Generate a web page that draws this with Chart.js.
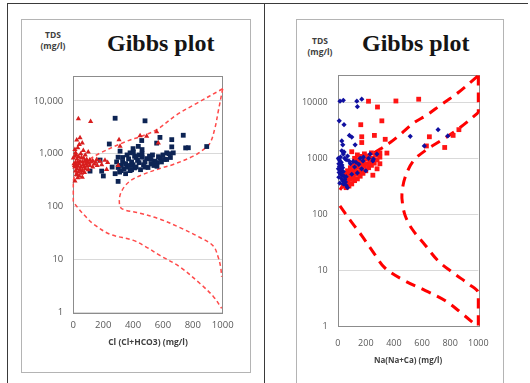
<!DOCTYPE html>
<html>
<head>
<meta charset="utf-8">
<script src="https://cdn.jsdelivr.net/npm/chart.js@4.4.0/dist/chart.umd.min.js"></script>
<style>
body { margin:0; background:#fff; width:530px; height:383px; position:relative; overflow:hidden; }
.line { position:absolute; background:#3a3a3a; }
.box { position:absolute; border:1px solid #b4b4b4; box-sizing:border-box; }
.tds { position:absolute; font:bold 8.5px "Open Sans", sans-serif; color:#404040; text-align:center; line-height:11px; width:44px; }
.title { position:absolute; font:bold 24px "Liberation Serif", serif; color:#151515; white-space:nowrap; line-height:24px; }
canvas { position:absolute; }
</style>
</head>
<body>
<div class="line" style="left:7px;top:3px;width:521px;height:1px"></div>
<div class="line" style="left:7px;top:3px;width:1px;height:380px"></div>
<div class="line" style="left:264px;top:3px;width:1px;height:380px"></div>
<div class="box" style="left:21px;top:19px;width:230px;height:354px"></div>
<div class="box" style="left:296px;top:19px;width:208px;height:380px"></div>

<div class="tds" style="left:31px;top:29px">TDS<br>(mg/l)</div>
<div class="title" style="left:107px;top:31px">Gibbs plot</div>
<div class="tds" style="left:298px;top:35px">TDS<br>(mg/l)</div>
<div class="title" style="left:362px;top:31px">Gibbs plot</div>

<canvas id="leftChart" width="228" height="312" style="left:22px;top:60px"></canvas>
<canvas id="rightChart" width="206" height="323" style="left:297px;top:60px"></canvas>

<script>
// ---- left plot: Cl/(Cl+HCO3) ----
const clTriangles = [
  [34,4600],[116,4100],[45,2000],[23,1820],[40,1500],[60,1600],[11,1200],[67,1150],[100,1080],[30,1300],
  [15,1050],[50,1000],[20,950],[80,950],[10,900],[35,880],[55,850],[0,830],[25,800],[70,820],
  [90,780],[110,760],[130,740],[157,780],[180,720],[212,750],[230,680],[150,690],[120,700],[95,700],
  [75,720],[60,700],[45,720],[30,700],[15,680],[5,650],[20,620],[40,640],[65,620],[85,640],
  [105,660],[140,640],[190,620],[30,580],[50,560],[70,560],[90,580],[10,560],[25,520],[45,500],
  [60,480],[80,520],[100,500],[15,470],[35,450],[55,430],[75,440],[20,400],[27,400],[40,380],
  [11,305],[30,350],[60,360],[8,600],[110,600],[130,560],[160,600],
  [306,1850],[313,1380],[447,2200],[558,2600],[491,2140],[569,1590],[223,505],[300,600]
];
const clSquares = [
  [280,4700],[480,4200],[241,1530],[736,2240],[580,2040],[659,1850],[458,1780],[893,1370],[752,1290],[558,1590],
  [659,1350],[435,1380],[313,1120],[669,1040],[625,1040],[380,1040],[402,1080],[580,830],[547,725],[625,780],
  [491,810],[179,760],[112,470],[190,470],[201,380],[300,300],[310,450],[320,600],[330,700],[340,520],
  [350,650],[360,560],[370,800],[380,480],[390,700],[400,620],[410,900],[420,560],[430,750],[440,680],
  [450,500],[460,860],[470,620],[480,700],[500,550],[510,900],[520,640],[530,950],[540,600],[560,680],
  [570,880],[590,700],[600,950],[610,780],[640,1000],[650,850],[300,860],[320,480],[350,420],[380,600],
  [410,540],[440,950],[460,1000],[300,550],[330,850],[360,950],[390,500],[420,850],[520,780],[460,1200],
  [400,1250],[480,560],[540,650],[560,580],[280,420],[290,700],[260,560],[770,1300]
];
const clOuterCurve = [
  [1000,17000],[826,9000],[692,5460],[558,2850],[457,2150],[357,1720],[179,1030],[90,716],[23,470],
  [0,305],[0,198],[0,128],[31,95],[78,67],[134,47],[246,30],[402,23],[491,17],[580,11.9],
  [714,7.2],[848,3.5],[937,2],[993,1.19]
];
const clInnerCurve = [
  [1000,17000],[970,6300],[948,3060],[915,1590],[871,1200],[803,900],[669,628],[580,528],[469,408],
  [380,305],[324,198],[308,128],[324,92],[447,75],[580,58],[714,40],[848,26],[937,18],[970,11],
  [986,7.2],[993,4.7]
];
const clTicks = [1, 10, 100, 1000, 10000];

// ---- right plot: Na/(Na+Ca) ----
const naDiamonds = [
  [16,10400],[40,10800],[136,10400],[171,11300],[140,8300],[11,4660],[45,3970],[83,2560],[100,2390],[124,1740],
  [29,2040],[36,1740],[29,1360],[40,1190],[516,2460],[714,3240],[783,2500],[616,1660],
  [183,1050],[231,1190],[279,1190],[254,970],
  [5,1000],[10,950],[15,900],[20,1050],[25,850],[8,800],[18,780],[30,760],[12,720],[22,700],
  [35,680],[5,650],[15,620],[28,600],[40,580],[10,560],[20,520],[32,500],[45,480],[8,460],
  [25,440],[50,420],[35,400],[55,380],[15,360],[40,350],[60,330],[70,300],[50,1000],[60,950],
  [80,900],[110,880],[90,800],[130,850],[150,780],[120,700],[170,650],[200,600],[180,900],[70,1100],
  [45,1300],[60,470],[100,520],[140,550],[250,900],[220,1000],[160,1000]
];
const naSquares = [
  [219,10400],[414,10500],[576,11300],[283,8200],[314,4650],[164,3970],[261,2560],[171,2420],[338,2180],[171,1910],
  [652,2420],[862,3240],[821,2560],[761,1560],[631,1660],[350,1240],[100,1310],
  [60,300],[80,320],[100,350],[70,380],[120,400],[90,420],[140,430],[60,450],[110,460],[160,480],
  [80,500],[130,520],[180,540],[100,560],[150,580],[200,600],[70,600],[120,620],[170,650],[220,680],
  [90,680],[140,700],[190,720],[240,750],[110,760],[160,780],[210,800],[260,820],[130,840],[180,870],
  [230,900],[280,940],[150,950],[200,980],[250,1000],[300,1050],[120,1000],[170,1080],[220,1100],[270,1150],
  [190,1200],[240,1250],[140,1150],[300,1250],[50,350],[40,320],[90,560],[60,520],[250,500],[280,650],[300,800]
];
const naCurveA = [
  [16,274],[100,560],[159,790],[230,1115],[302,1460],[373,1910],[445,2660],[540,4250],[636,5940],
  [731,8870],[860,15000],[1000,29800]
];
const naCurveB = [
  [1000,30000],[1000,6800],[993,6300],[850,3240],[731,2040],[636,1450],[540,910],[481,470],[457,240],
  [462,150],[481,94],[529,55],[624,28],[719,14.5],[838,8.5],[933,5.7],[1000,4],[1000,1]
];
const naCurveC = [
  [16,142],[100,72],[171,42],[266,19],[338,11],[481,6.5],[624,4.4],[766,2.9],[886,1.7],[981,1.07]
];
const naTicks = [1, 10, 100, 1000, 10000];

const toXY = arr => arr.map(p => ({ x: p[0], y: p[1] }));

Chart.defaults.font.family = "'Open Sans', sans-serif";
Chart.defaults.color = '#595959';

// rectangle round the plot area, drawn under the data
const plotBorder = {
  id: 'plotBorder',
  beforeDatasetsDraw(chart) {
    const a = chart.chartArea, ctx = chart.ctx;
    ctx.save();
    ctx.strokeStyle = '#8c8c8c';
    ctx.lineWidth = 1;
    ctx.strokeRect(Math.round(a.left) + 0.5, Math.round(a.top) + 0.5,
      Math.round(a.right - a.left), Math.round(a.bottom - a.top));
    ctx.restore();
  }
};

function curve(data, color, width, dash) {
  return {
    data: toXY(data), showLine: true, pointRadius: 0, borderColor: color,
    borderWidth: width, borderDash: dash, tension: 0.35, fill: false, clip: false
  };
}

function makeChart(id, datasets, cfg) {
  return new Chart(document.getElementById(id), {
    type: 'scatter',
    data: { datasets: datasets },
    plugins: [plotBorder],
    options: {
      responsive: false, animation: false,
      layout: { padding: cfg.padding },
      plugins: { legend: { display: false }, tooltip: { enabled: false } },
      scales: {
        x: {
          type: 'linear', min: 0, max: 1000,
          grid: { display: false }, border: { display: false },
          ticks: { stepSize: 200, padding: cfg.xPad, font: { size: cfg.tickSize },
            maxRotation: 0, minRotation: 0, autoSkip: false, callback: v => String(v) },
          title: { display: true, text: cfg.xTitle, color: '#404040',
            font: { size: cfg.titleSize, weight: 'bold' }, padding: { top: 0, bottom: cfg.titlePad } },
          afterFit: s => { s.height = cfg.xHeight; }
        },
        y: {
          type: 'logarithmic', min: 1, max: 30000,
          grid: { color: '#d9d9d9', drawTicks: false }, border: { display: false },
          ticks: { padding: 10, font: { size: cfg.tickSize }, callback: cfg.fmt },
          afterBuildTicks: s => { s.ticks = cfg.ticks.map(v => ({ value: v })); },
          afterFit: s => { s.width = cfg.yWidth; }
        }
      }
    }
  });
}

makeChart('leftChart', [
  { data: toXY(clTriangles), pointStyle: 'triangle', pointRadius: 3, backgroundColor: '#d81e1e', borderWidth: 0, clip: false },
  { data: toXY(clSquares), pointStyle: 'rect', pointRadius: 3.4, backgroundColor: '#0d2454', borderWidth: 0, clip: false },
  curve(clOuterCurve, '#ff4a4a', 1.5, [4, 3]),
  curve(clInnerCurve, '#ff4a4a', 1.5, [4, 3])
], {
  padding: { left: 0, right: 27.3, top: 14, bottom: 0 },
  yWidth: 51.3, xHeight: 59.7, xPad: -1, titlePad: 24.5,
  tickSize: 9.5, titleSize: 8.5, xTitle: 'Cl (Cl+HCO3) (mg/l)', ticks: clTicks,
  fmt: v => Number(v).toLocaleString('en-US')
});

makeChart('rightChart', [
  { data: toXY(naDiamonds), pointStyle: 'rectRot', pointRadius: 2.6, backgroundColor: '#1010a0', borderWidth: 0, clip: false },
  { data: toXY(naSquares), pointStyle: 'rect', pointRadius: 3.4, backgroundColor: '#ff1414', borderWidth: 0, clip: false },
  curve(naCurveA, '#ff0000', 3, [10, 7]),
  curve(naCurveB, '#ff0000', 3, [10, 7]),
  curve(naCurveC, '#ff0000', 3, [10, 7])
], {
  padding: { left: 0, right: 24.7, top: 10, bottom: 0 },
  yWidth: 40.7, xHeight: 56.3, xPad: 3, titlePad: 17,
  tickSize: 9, titleSize: 8, xTitle: 'Na(Na+Ca) (mg/l)', ticks: naTicks,
  fmt: v => String(v)
});
</script>
</body>
</html>
